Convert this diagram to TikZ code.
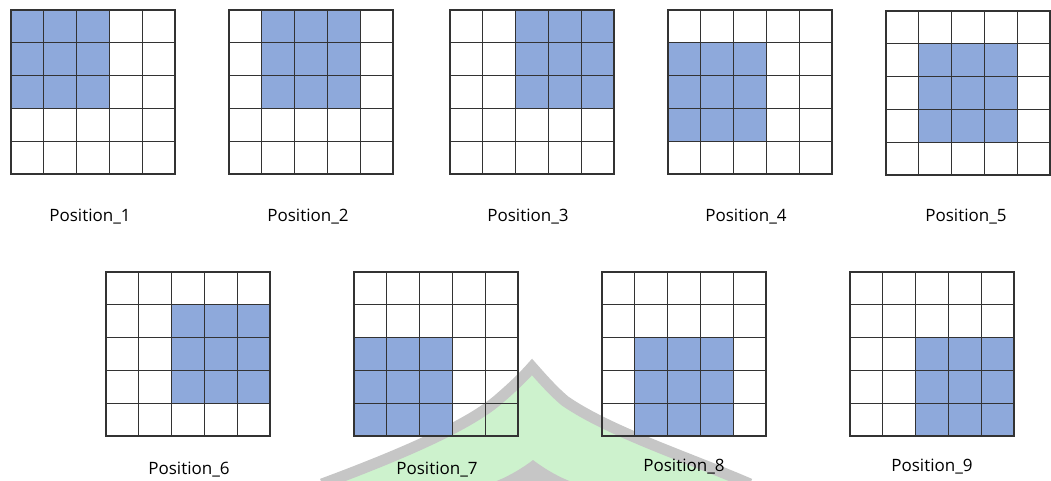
\documentclass[tikz,border=0pt]{standalone}
\usepackage{fontspec}
\setmainfont{Open Sans}
\definecolor{cellblue}{RGB}{142,169,219}
\definecolor{wmgreen}{RGB}{205,242,205}
\definecolor{wmgray}{RGB}{198,198,198}
\tikzset{
  gridline/.style={line width=1.1pt, draw=black!80},
  poslabel/.style={font=\fontsize{17}{20}\selectfont, anchor=base, inner sep=0pt},
}
% 5x5 grid at (#1,#2), 3x3 block starting at column #3, row #4
\newcommand{\posgrid}[4]{%
  \fill[cellblue] (#1+#3*32.8,#2+#4*32.8) rectangle ++(98.4,98.4);
  \foreach \k in {0,...,5}{
    \draw[gridline] (#1+\k*32.8,#2) -- ++(0,164);
    \draw[gridline] (#1,#2+\k*32.8) -- ++(164,0);
  }
}
\begin{document}
\begin{tikzpicture}[x=1pt,y=-1pt,line cap=rect]
  \useasboundingbox (0,0) rectangle (1051,480);
  % watermark
  \begin{scope}
    \clip (0,0) rectangle (1051,480);
    \fill[wmgreen] (322,484) .. controls (400,455) and (470,425) .. (500,398)
      .. controls (515,385) and (525,375) .. (532,367)
      .. controls (540,376) and (552,390) .. (565,401)
      .. controls (610,432) and (690,458) .. (750,484) -- cycle;
    \draw[wmgray, line width=11pt, line cap=butt] (322,484) .. controls (400,455) and (470,425) .. (500,398)
      .. controls (515,385) and (525,375) .. (532,367)
      .. controls (540,376) and (552,390) .. (565,401)
      .. controls (610,432) and (690,458) .. (750,484);
    \fill[wmgray] (533,460) .. controls (520,470) and (505,478) .. (494,482)
      -- (572,482) .. controls (561,478) and (546,470) .. (533,460) -- cycle;
  \end{scope}
  % top row
  \posgrid{11}{10}{0}{0}
  \posgrid{229}{10}{1}{0}
  \posgrid{450}{10}{2}{0}
  \posgrid{668}{10}{0}{1}
  \posgrid{886}{11}{1}{1}
  % bottom row
  \posgrid{106}{272}{2}{1}
  \posgrid{354}{272}{0}{2}
  \posgrid{602}{272}{1}{2}
  \posgrid{850}{272}{2}{2}
  % labels
  \node[poslabel] (lab1) at (90,221) {Position\_1};
  \node[poslabel] (lab2) at (308,221) {Position\_2};
  \node[poslabel] (lab3) at (528,221) {Position\_3};
  \node[poslabel] (lab4) at (746,221) {Position\_4};
  \node[poslabel] (lab5) at (966,221) {Position\_5};
  \node[poslabel] (lab6) at (189,474) {Position\_6};
  \node[poslabel] (lab7) at (437,474) {Position\_7};
  \node[poslabel] (lab8) at (684,471) {Position\_8};
  \node[poslabel] (lab9) at (932,471) {Position\_9};
\end{tikzpicture}
\end{document}
